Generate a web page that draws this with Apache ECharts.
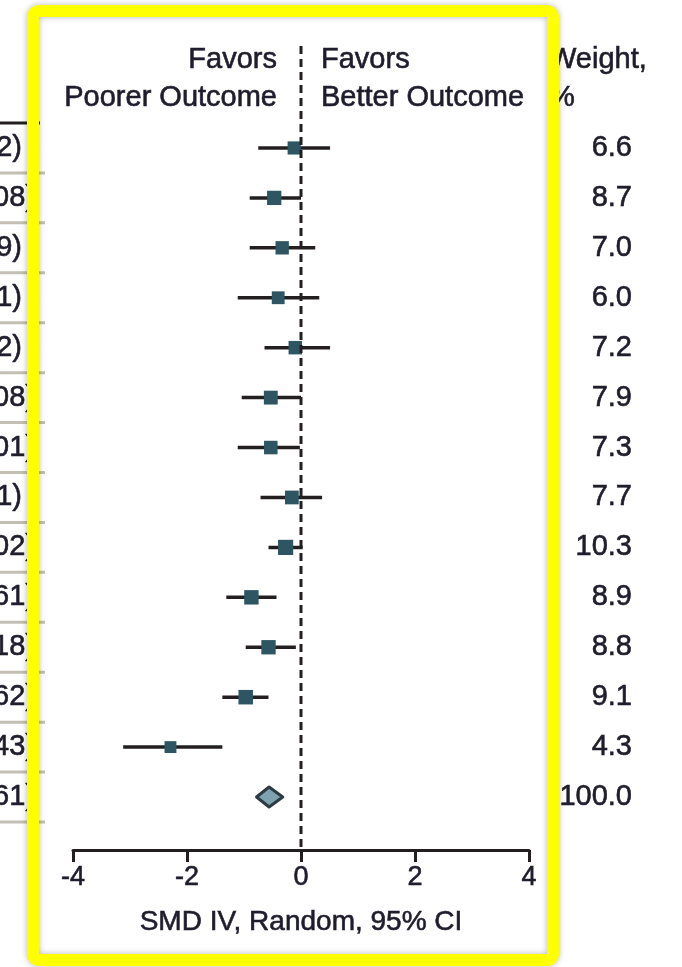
<!DOCTYPE html>
<html><head><meta charset="utf-8">
<script src="https://cdn.jsdelivr.net/npm/echarts@6/dist/echarts.min.js"></script>
<style>html,body{margin:0;padding:0;background:#fff}#c{width:682px;height:967px}</style>
</head><body><div id="c"></div>
<script>
// ---- data ----
const rowLabels = ['2)', '08)', '9)', '1)', '2)', '08)', '01)', '1)', '02)', '61)', '18)', '62)', '43)', '61)'];
const estimates = [-0.12, -0.47, -0.33, -0.40, -0.10, -0.53, -0.53, -0.16, -0.27, -0.87, -0.57, -0.97, -2.29, -0.56];
const lowerCI   = [-0.75, -0.90, -0.90, -1.11, -0.64, -1.04, -1.11, -0.71, -0.57, -1.31, -0.97, -1.38, -3.12, -0.78];
const upperCI   = [0.51, 0.00, 0.25, 0.32, 0.51, 0.00, -0.02, 0.37, 0.03, -0.43, -0.09, -0.57, -1.38, -0.32];
const weights   = ['6.6', '8.7', '7.0', '6.0', '7.2', '7.9', '7.3', '7.7', '10.3', '8.9', '8.8', '9.1', '4.3', '100.0'];
const pooledIndex = 13;
const referenceValue = 0;
const xMin = -4, xMax = 4, xStep = 2;
const xTitle = 'SMD IV, Random, 95% CI';
const leftHeader = ['Favors', 'Poorer Outcome'];
const rightHeader = ['Favors', 'Better Outcome'];
const weightHeader = ['Weight,', '%'];

// ---- styles ----
const FONT = '"Liberation Sans", Arial, sans-serif';
const TEXT = '#1f1c2c';
const INK = '#231f20';
const TB = {textBorderColor: TEXT, textBorderWidth: 0.6};

const chart = echarts.init(document.getElementById('c'), null, {renderer: 'canvas'});

const seriesData = estimates.map((e, i) => [i, e, lowerCI[i], upperCI[i], parseFloat(weights[i])]);

function renderRow(params, api) {
  const i = api.value(0);
  const est = api.value(1), lo = api.value(2), hi = api.value(3), w = api.value(4);
  const c = api.coord([est, i]);
  const pl = api.coord([lo, i]);
  const ph = api.coord([hi, i]);
  const band = api.size([0, 1])[1];
  const children = [];
  if (i === 0) {
    children.push({type: 'line', shape: {x1: 0, y1: c[1] - band / 2, x2: 40, y2: c[1] - band / 2},
      style: {stroke: INK, lineWidth: 3}});
  }
  children.push({type: 'line', shape: {x1: 0, y1: c[1] + band / 2, x2: 45, y2: c[1] + band / 2},
    style: {stroke: '#c3c0b3', lineWidth: 3}});
  if (i === pooledIndex) {
    const h = 10;
    children.push({type: 'polygon',
      shape: {points: [[pl[0], c[1]], [c[0], c[1] - h], [ph[0], c[1]], [c[0], c[1] + h]]},
      style: {fill: '#7fa2b1', stroke: '#2e3b42', lineWidth: 3, lineJoin: 'round'}});
  } else {
    children.push({type: 'line', shape: {x1: pl[0], y1: c[1], x2: ph[0], y2: c[1]},
      style: {stroke: INK, lineWidth: 3.5}});
    const s = 9.5 + w * 0.55;
    children.push({type: 'rect', shape: {x: c[0] - s / 2, y: c[1] - s / 2, width: s, height: s},
      style: {fill: '#2d5562'}});
  }
  return {type: 'group', children};
}

function renderRef(params, api) {
  const x = api.coord([api.value(0), 0])[0];
  return {type: 'line', shape: {x1: x, y1: 46, x2: x, y2: 850},
    style: {stroke: INK, lineWidth: 3, lineDash: [8, 5]}};
}

function headerText(text, x, y, align) {
  return {type: 'text', x: x, y: y, z: 10,
    style: Object.assign({text: text, align: align, verticalAlign: 'middle',
      font: '29px ' + FONT, fill: TEXT, stroke: TEXT, lineWidth: 0.6})};
}

const option = {
  animation: false,
  backgroundColor: '#ffffff',
  grid: {left: 73, right: 153, top: 123, bottom: 145, containLabel: false, outerBoundsMode: 'none'},
  xAxis: {
    type: 'value', min: xMin, max: xMax, interval: xStep, position: 'bottom', offset: 28,
    axisLine: {show: true, onZero: false, lineStyle: {color: INK, width: 3}},
    axisTick: {show: true, length: 12, lineStyle: {color: INK, width: 3}},
    axisLabel: Object.assign({fontSize: 27, color: TEXT, margin: 14, fontFamily: FONT}, TB),
    splitLine: {show: false},
    name: xTitle, nameLocation: 'middle', nameGap: 58,
    nameTextStyle: Object.assign({fontSize: 28, color: TEXT, fontFamily: FONT}, TB)
  },
  yAxis: [
    {
      type: 'category', data: rowLabels, inverse: true, position: 'left',
      axisLine: {show: false}, axisTick: {show: false}, splitLine: {show: false},
      axisLabel: Object.assign({
        margin: 38, fontSize: 29, color: TEXT, fontFamily: FONT,
        formatter: v => (v.length <= 2 ? '{s|' + v + '}' : '{l|' + v + '}'),
        rich: {
          s: Object.assign({fontSize: 29, color: TEXT, fontFamily: FONT, padding: [0, 13, 0, 0]}, TB),
          l: Object.assign({fontSize: 29, color: TEXT, fontFamily: FONT}, TB)
        }
      }, TB)
    },
    {
      type: 'category', data: weights, inverse: true, position: 'right', offset: 103,
      axisLine: {show: false}, axisTick: {show: false}, splitLine: {show: false},
      axisLabel: Object.assign({inside: true, margin: 0, fontSize: 29, color: TEXT, fontFamily: FONT}, TB)
    }
  ],
  series: [
    {type: 'custom', name: 'studies', xAxisIndex: 0, yAxisIndex: 0, clip: false,
      renderItem: renderRow, data: seriesData, z: 2},
    {type: 'custom', name: 'reference', xAxisIndex: 0, yAxisIndex: 0, clip: false,
      renderItem: renderRef, data: [[referenceValue]], z: 3}
  ],
  graphic: [
    headerText(leftHeader[0], 277, 60, 'right'),
    headerText(leftHeader[1], 277, 98, 'right'),
    headerText(rightHeader[0], 321, 60, 'left'),
    headerText(rightHeader[1], 321, 98, 'left'),
    headerText(weightHeader[0], 549, 60, 'left'),
    headerText(weightHeader[1], 549, 98, 'left'),
    {type: 'rect', z: 100,
      shape: {x: 33, y: 11, width: 520, height: 949, r: 6},
      style: {fill: 'none', stroke: '#ffff00', lineWidth: 12,
        shadowBlur: 6, shadowColor: 'rgba(0,0,0,0.28)'}}
  ]
};
chart.setOption(option);
</script>
</body></html>
